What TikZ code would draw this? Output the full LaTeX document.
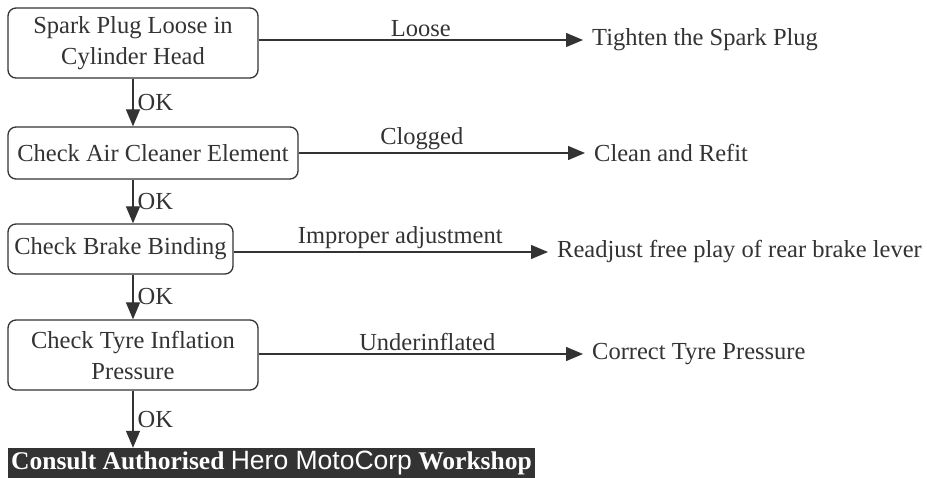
\documentclass[tikz,border=0pt]{standalone}
\usepackage{fontspec}
\setmainfont{Liberation Serif}
\setsansfont{Liberation Sans}
\usetikzlibrary{arrows.meta}
\definecolor{ink}{HTML}{333333}
\begin{document}
\begin{tikzpicture}[x=1pt,y=-1pt,
  every node/.style={font=\fontsize{24.5}{31}\selectfont, text=ink},
  box/.style={draw=ink, line width=1.3pt, rounded corners=8pt, inner sep=0pt, align=center},
  conn/.style={draw=ink, line width=1.3pt, -{Triangle[length=17pt,width=14pt]}},
  lbl/.style={anchor=south, inner sep=2.5pt},
  ok/.style={anchor=west, inner sep=4pt},
  res/.style={anchor=west, inner xsep=9pt, inner ysep=0pt}]
\useasboundingbox (0,0) rectangle (927,478);
% check boxes
\node[box, minimum width=250pt, minimum height=70pt] (b1) at (133,43) {Spark Plug Loose in\\Cylinder Head};
\node[box, minimum width=290pt, minimum height=52pt] (b2) at (153,153) {Check Air Cleaner Element};
\node[box, minimum width=225pt, minimum height=50pt] (b3) at (120.5,249) {Check Brake Binding};
\node[box, minimum width=250pt, minimum height=70pt] (b4) at (133,355) {Check Tyre Inflation\\Pressure};
\node[fill=ink, text=white, inner sep=0pt, minimum width=527pt, minimum height=30pt,
  font=\fontsize{25.5}{30}\selectfont] (f) at (271.5,463)
  {\textbf{Consult Authorised} {\sffamily\fontsize{26.5}{30}\selectfont Hero MotoCorp} \textbf{Workshop}};
% results
\node[res] (t1) at (583,40) {Tighten the Spark Plug};
\node[res] (t2) at (585,153) {Clean and Refit};
\node[res] (t3) at (548,252) {Readjust free play of rear brake lever};
\node[res] (t4) at (583,354) {Correct Tyre Pressure};
% horizontal connectors
\draw[conn] (b1.east |- t1.west) -- node[lbl, pos=0.5] {Loose} (t1.west);
\draw[conn] (b2.east |- t2.west) -- node[lbl, pos=0.43] {Clogged} (t2.west);
\draw[conn] (b3.east |- t3.west) -- node[lbl, pos=0.53] {Improper adjustment} (t3.west);
\draw[conn] (b4.east |- t4.west) -- node[lbl, pos=0.52] {Underinflated} (t4.west);
% vertical connectors
\draw[conn] (b1.south) -- node[ok] {OK} (b2.north -| b1.south);
\draw[conn] (b2.south -| b1.south) -- node[ok] {OK} (b3.north -| b1.south);
\draw[conn] (b3.south -| b1.south) -- node[ok] {OK} (b4.north -| b1.south);
\draw[conn] (b4.south -| b1.south) -- node[ok] {OK} (f.north -| b1.south);
\end{tikzpicture}
\end{document}
